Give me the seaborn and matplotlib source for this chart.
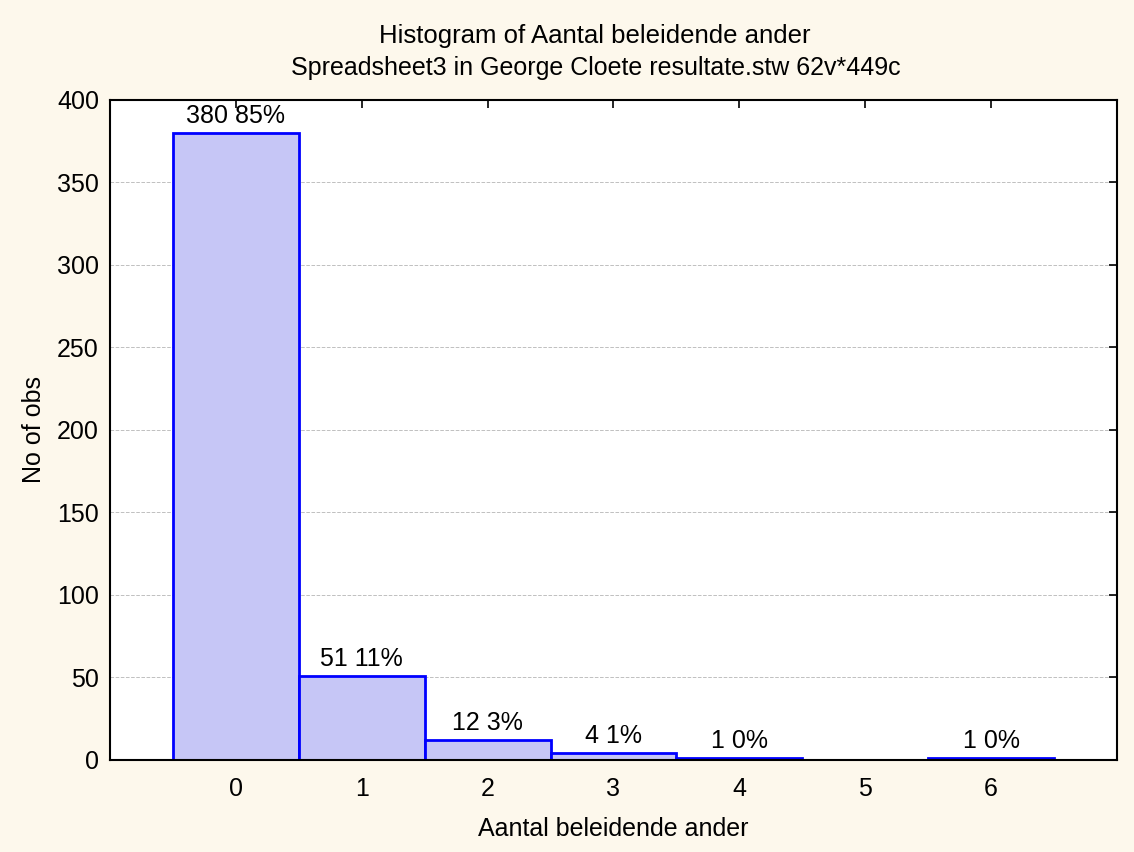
import pandas as pd
import seaborn as sns
import matplotlib.pyplot as plt
import matplotlib.ticker as ticker

sns.set_style("white")
plt.rcParams["font.family"] = ["Liberation Sans", "DejaVu Sans"]
plt.rcParams["font.size"] = 18
plt.rcParams["text.color"] = "black"
plt.rcParams["axes.labelcolor"] = "black"
plt.rcParams["xtick.color"] = "black"
plt.rcParams["ytick.color"] = "black"

# histogram counts
categories = ["0", "1", "2", "3", "4", "5", "6"]
counts = [380, 51, 12, 4, 1, 0, 1]
percents = ["85%", "11%", "3%", "1%", "0%", "", "0%"]

df = pd.DataFrame({"value": categories, "count": counts})

bg = "#fdf8ec"
fig = plt.figure(figsize=(11.34, 8.52), dpi=100, facecolor=bg)
ax = fig.add_axes([0.097, 0.108, 0.888, 0.775])

sns.barplot(data=df, x="value", y="count", order=categories, width=1.0,
            color="#c6c6f6", edgecolor="#0000ff", linewidth=2, saturation=1, ax=ax)

# count + percent labels above bars
for i, (c, p) in enumerate(zip(counts, percents)):
    if c == 0:
        continue
    ax.text(i, c + 3, f"{c} {p}", ha="center", va="bottom", fontsize=18, color="black")

ax.set_xlim(-1, 7)
ax.set_ylim(0, 400)
ax.yaxis.set_major_locator(ticker.MultipleLocator(50))
ax.grid(True, axis="y", linestyle="--", color="#c0c0c0", linewidth=0.7)
ax.set_axisbelow(True)

for s in ax.spines.values():
    s.set_visible(True)
    s.set_color("black")
    s.set_linewidth(1.5)

ax.tick_params(axis="both", direction="in", length=6, width=1.2, labelsize=18,
               top=True, right=True, colors="black")
ax.tick_params(axis="x", pad=12)
ax.tick_params(axis="y", pad=8)

ax.set_xlabel("Aantal beleidende ander", fontsize=18, labelpad=12)
ax.set_ylabel("No of obs", fontsize=18, labelpad=8)
fig.text(595 / 1134, 1 - 36 / 852, "Histogram of Aantal beleidende ander",
         ha="center", va="center", fontsize=18.5)
fig.text(596 / 1134, 1 - 68 / 852, "Spreadsheet3 in George Cloete resultate.stw 62v*449c",
         ha="center", va="center", fontsize=18)

plt.savefig("out.png", facecolor=bg)
